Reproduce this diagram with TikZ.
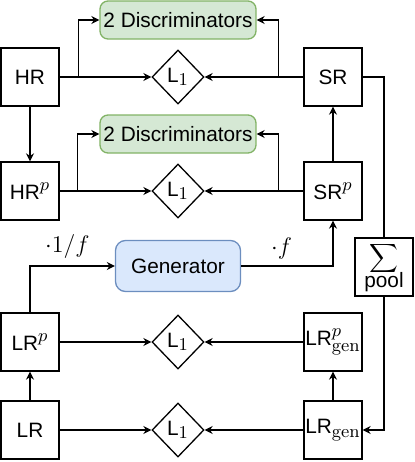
\documentclass[tikz,border=0pt]{standalone}
\usepackage[no-math]{fontspec}
\setmainfont{Liberation Sans}
\DeclareMathSizes{10.4}{12}{9}{7}
\usetikzlibrary{arrows.meta,shapes.geometric}
\definecolor{discfill}{HTML}{D5E8D4}
\definecolor{discline}{HTML}{82B366}
\definecolor{genfill}{HTML}{DAE8FC}
\definecolor{genline}{HTML}{6C8EBF}
\tikzset{
	img/.style={draw, line width=0.65pt, minimum width=29pt, minimum height=29pt, inner sep=0pt},
	imgin/.style={img, line width=1.3pt},
	loss/.style={draw, diamond, line width=0.65pt, minimum width=26pt, minimum height=27pt, inner sep=0pt},
	disc/.style={draw=discline, fill=discfill, rounded corners=4pt, line width=0.65pt, minimum width=78pt, minimum height=19pt, inner sep=0pt},
	gener/.style={draw=genline, fill=genfill, rounded corners=5pt, line width=0.65pt, minimum width=62.5pt, minimum height=25.5pt, inner sep=0pt},
	arr/.style={line width=0.65pt, -{Stealth[length=4pt,width=4pt]}},
	wire/.style={line width=0.65pt}
}

\begin{document}
\begin{tikzpicture}[x=0.5pt, y=-0.5pt, font=\fontsize{10.4}{12.5}\selectfont]
		%%%%% START %%%%%
		\useasboundingbox (0, 0) rectangle (415, 462);
		
		% left column
		\node[imgin] (hr) at (30, 77) {HR};
		\node[img] (hrp) at (30, 191) {HR$^p$};
		\node[img] (lrp) at (30, 342) {LR$^p$};
		\node[imgin] (lr) at (30, 430) {LR};
		
		% right column
		\node[img] (sr) at (333, 77) {SR};
		\node[img] (srp) at (333, 191) {SR$^p$};
		\node[img] (lrgp) at (333, 342) {LR$^p_{\mathrm{gen}}$};
		\node[img] (lrg) at (333, 430) {LR$_{\mathrm{gen}}$};
		\node[img, align=center, inner sep=0pt] (pool) at (384, 267) {$\displaystyle\sum$\\[-2pt]pool};
		
		% losses
		\node[loss] (lossa) at (178, 77) {L$_1$};
		\node[loss] (lossb) at (178, 191) {L$_1$};
		\node[loss] (lossc) at (178, 342) {L$_1$};
		\node[loss] (lossd) at (178, 430) {L$_1$};
		
		\node[disc] (disca) at (178, 20) {2 Discriminators};
		\node[disc] (discb) at (178, 134) {2 Discriminators};
		\node[gener] (gen) at (178, 266) {Generator};
		
		% top pair
		\draw[arr] (hr) -- (lossa);
		\draw[arr] (hr.east) ++(18, 0) |- (disca.west);
		\draw[arr] (sr) -- (lossa);
		\draw[arr] (sr.west) ++(-25, 0) |- (disca.east);
		\draw[arr] (hr) -- (hrp);
		\draw[arr] (srp) -- (sr);
		
		\draw[arr] (hrp) -- (lossb);
		\draw[arr] (hrp.east) ++(18, 0) |- (discb.west);
		\draw[arr] (srp) -- (lossb);
		\draw[arr] (srp.west) ++(-25, 0) |- (discb.east);
		
		% generator
		\draw[arr] (lrp.north) |- (gen.west) node[pos=0.72, above=0pt] {$\cdot 1/f$};
		\draw[arr] (gen.east) -| (srp.south) node[pos=0.22, above=0pt] {$\cdot f$};
		
		% bottom pair
		\draw[arr] (lrp) -- (lossc);
		\draw[arr] (lrgp) -- (lossc);
		\draw[arr] (lr) -- (lrp);
		\draw[arr] (lr) -- (lossd);
		\draw[arr] (lrg) -- (lossd);
		\draw[arr] (lrg) -- (lrgp);
		
		% pooling
		\draw[wire] (sr.east) -| (pool.north);
		\draw[arr] (pool.south) |- (lrg.east);
		%%%%% END %%%%%
	\end{tikzpicture}
\end{document}
